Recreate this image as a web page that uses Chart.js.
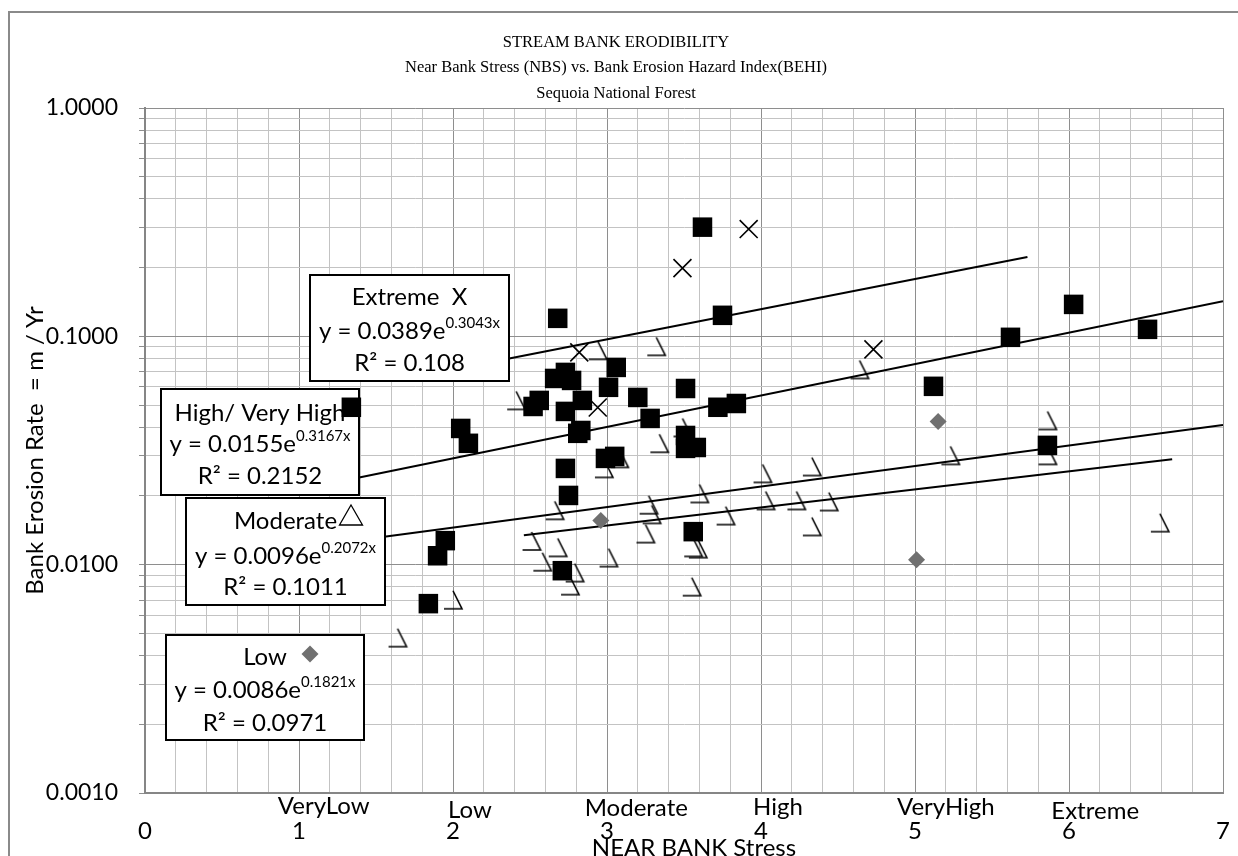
<!DOCTYPE html>
<html><head><meta charset="utf-8">
<script src="https://cdn.jsdelivr.net/npm/chart.js@4.4.1/dist/chart.umd.min.js"></script>
<style>html,body{margin:0;padding:0;background:#fff;}canvas{display:block;}</style>
</head><body>
<canvas id="c" width="1238" height="856"></canvas>
<script>
// ---------- text ----------
const titleLines = ["STREAM BANK ERODIBILITY", "Near Bank Stress (NBS) vs. Bank Erosion Hazard Index(BEHI)", "Sequoia National Forest"];
const xAxisTitle = "NEAR BANK Stress";
const yAxisTitle = "Bank Erosion Rate  = m / Yr";
const xTickLabels = ["0", "1", "2", "3", "4", "5", "6", "7"];
const yTickLabels = ["0.0010", "0.0100", "0.1000", "1.0000"];
const categoryNames = ["VeryLow", "Low", "Moderate", "High", "VeryHigh", "Extreme"];
const categoryX = [1.16, 2.11, 3.19, 4.11, 5.20, 6.17];

// ---------- series: High / Very High (squares) ----------
const highX = [1.34, 2.05, 2.10, 1.84, 1.95, 1.90, 2.52, 2.56, 2.73, 2.84, 3.06, 3.01, 3.20, 3.28, 3.51, 3.72, 3.84, 2.81, 2.83,
  3.51, 3.51, 3.58, 2.99, 3.05, 2.73, 2.75, 3.56, 2.71, 2.68, 3.62, 3.75, 2.73, 2.66, 2.77, 5.12, 5.62, 6.03, 6.51, 5.86];
const highY = [0.0489, 0.0395, 0.0340, 0.00675, 0.01274, 0.01094, 0.0493, 0.0524, 0.0469, 0.0524, 0.0731, 0.0598, 0.0540, 0.0437, 0.0591, 0.0489, 0.0508, 0.0376, 0.0387,
  0.0368, 0.0323, 0.0326, 0.0292, 0.0298, 0.0264, 0.0201, 0.01395, 0.00941, 0.1199, 0.3007, 0.1236, 0.0695, 0.0654, 0.0641, 0.0604, 0.0990, 0.138, 0.1073, 0.0333];

// ---------- series: Extreme (x marks) ----------
const extremeX = [2.82, 2.94, 3.49, 3.92, 4.73];
const extremeY = [0.0851, 0.0488, 0.199, 0.295, 0.0877];

// ---------- series: Moderate (open triangles) ----------
const moderateX = [1.64, 2.00, 2.41, 2.94, 3.32, 2.98, 3.08, 3.34, 3.49, 4.01, 3.60, 3.27, 3.29, 4.03, 3.77, 4.23, 2.66, 2.51,
  2.68, 3.25, 2.58, 2.79, 2.76, 3.01, 3.56, 3.59, 3.55, 4.64, 5.86, 5.86, 5.23, 4.33, 4.44, 4.33, 6.59];
const moderateY = [0.00479, 0.00702, 0.0524, 0.0868, 0.0904, 0.0264, 0.0292, 0.0340, 0.0399, 0.0251, 0.0205, 0.0183, 0.0166, 0.0191, 0.0164, 0.0191, 0.0173, 0.0127,
  0.0119, 0.01368, 0.0103, 0.00923, 0.00809, 0.01074, 0.0119, 0.01175, 0.00801, 0.0716, 0.0428, 0.0301, 0.0301, 0.0269, 0.0189, 0.0147, 0.01528];

// ---------- series: Low (diamonds) ----------
const lowX = [2.96, 5.15, 5.01];
const lowY = [0.0156, 0.0424, 0.0105];

// ---------- trendlines (Extreme, High/VH, Moderate, Low), end points ----------
const trendStartX = [2.0, 1.2, 1.2, 2.46];
const trendEndX = [5.73, 7.0, 7.0, 6.67];
const trendStartY = [0.0715, 0.02267, 0.01231, 0.01346];
const trendEndY = [0.2224, 0.1423, 0.04094, 0.02897];
const boxTitles = ["Extreme  X", "High/ Very High", "Moderate", "Low"];
const eqCoef = ["0.0389", "0.0155", "0.0096", "0.0086"];
const eqExp = ["0.3043x", "0.3167x", "0.2072x", "0.1821x"];
const rSquared = ["0.108", "0.2152", "0.1011", "0.0971"];

// ---------- axis tick positions ----------
const yTickValues = [];
[0.001, 0.01, 0.1].forEach(d => { for (let k = 1; k <= 9; k++) yTickValues.push(+(d * k).toPrecision(3)); });
yTickValues.push(1);
const xTickValues = [];
for (let i = 0; i <= 35; i++) xTickValues.push(+(i * 0.2).toFixed(1));

const pts = (xs, ys) => xs.map((x, i) => ({ x: x, y: ys[i] }));

// open-triangle marker as drawn in the reference (left side missing)
function hookMarker() {
  const c = document.createElement('canvas');
  c.width = 22; c.height = 22;
  const g = c.getContext('2d');
  g.strokeStyle = '#000'; g.lineWidth = 1.6; g.lineJoin = 'miter';
  g.beginPath();
  g.moveTo(11, 2); g.lineTo(20, 20); g.lineTo(2, 20);
  g.stroke();
  return c;
}

const SANS = 'Lato';
const SERIF = '"Liberation Serif"';

function drawEqBox(ctx, b, i) {
  const [x0, y0, x1, y1] = b.rect;
  ctx.save();
  ctx.fillStyle = '#fff';
  ctx.fillRect(x0, y0, x1 - x0, y1 - y0);
  ctx.strokeStyle = '#000'; ctx.lineWidth = 2;
  ctx.strokeRect(x0, y0, x1 - x0, y1 - y0);
  const cx = (x0 + x1) / 2;
  ctx.fillStyle = '#000';
  ctx.textBaseline = 'alphabetic';
  ctx.textAlign = 'center';
  ctx.font = '24px ' + SANS;
  ctx.fillText(boxTitles[i], cx, b.lines[0] + 8.5);
  const main = 'y = ' + eqCoef[i] + 'e';
  ctx.font = '24px ' + SANS;
  const wMain = ctx.measureText(main).width;
  ctx.font = '15px ' + SANS;
  const wSup = ctx.measureText(eqExp[i]).width;
  const sx = cx - (wMain + wSup) / 2;
  ctx.textAlign = 'left';
  ctx.font = '24px ' + SANS;
  ctx.fillText(main, sx, b.lines[1] + 8.5);
  ctx.font = '15px ' + SANS;
  ctx.fillText(eqExp[i], sx + wMain, b.lines[1] - 2);
  ctx.textAlign = 'center';
  ctx.font = '24px ' + SANS;
  ctx.fillText('R\u00B2 = ' + rSquared[i], cx, b.lines[2] + 8.5);
  ctx.restore();
}

const boxes = [
  { rect: [310, 275, 509, 381], lines: [296, 330, 362] },
  { rect: [161, 389, 359, 495], lines: [412, 443, 475] },
  { rect: [186, 498, 385, 605], lines: [520, 555, 586] },
  { rect: [166, 635, 364, 740], lines: [656, 689, 722] }
];

const decor = {
  id: 'decor',
  beforeDraw(chart) {
    const ctx = chart.ctx;
    ctx.save();
    ctx.fillStyle = '#fff';
    ctx.fillRect(0, 0, chart.width, chart.height);
    ctx.restore();
  },
  beforeDatasetDraw(chart, args) {
    if (args.index !== 3) return;
    const ctx = chart.ctx;
    ctx.save();
    ctx.beginPath();
    ctx.rect(0, 0, chart.width, chart.height);
    ctx.clip();
    boxes.forEach((b, i) => drawEqBox(ctx, b, i));
    ctx.strokeStyle = '#000'; ctx.lineWidth = 1.3;
    ctx.beginPath();
    ctx.moveTo(351, 505); ctx.lineTo(362.5, 525); ctx.lineTo(339.5, 525); ctx.closePath();
    ctx.stroke();
    ctx.fillStyle = '#707070';
    ctx.beginPath();
    ctx.moveTo(310, 645.5); ctx.lineTo(318.5, 654); ctx.lineTo(310, 662.5); ctx.lineTo(301.5, 654); ctx.closePath();
    ctx.fill();
    ctx.restore();
  },
  afterDraw(chart) {
    const ctx = chart.ctx;
    const area = chart.chartArea;
    const xs = chart.scales.x;
    ctx.save();
    ctx.strokeStyle = '#8a8a8a'; ctx.lineWidth = 2;
    ctx.strokeRect(9, 12, 1300, 900);
    ctx.fillStyle = '#000';
    ctx.textAlign = 'center'; ctx.textBaseline = 'middle';
    ctx.font = '16.5px ' + SERIF;
    const tY = [43, 68, 94];
    titleLines.forEach((t, i) => ctx.fillText(t, 616, tY[i]));
    ctx.font = '24px ' + SANS;
    ctx.textBaseline = 'alphabetic';
    const catDy = [21, 25, 23, 22, 22, 26];
    categoryNames.forEach((n, i) => ctx.fillText(n, xs.getPixelForValue(categoryX[i]), area.bottom + catDy[i]));
    ctx.fillText(xAxisTitle, 694, 856);
    ctx.translate(35, (area.top + area.bottom) / 2);
    ctx.rotate(-Math.PI / 2);
    ctx.textBaseline = 'middle';
    ctx.font = '24px ' + SANS;
    ctx.fillText(yAxisTitle, 0, 0);
    ctx.restore();
  }
};

function isDecade(v) { const l = Math.log10(v); return Math.abs(l - Math.round(l)) < 1e-6; }
function isInt(v) { return Math.abs(v - Math.round(v)) < 1e-6; }

function build() {
  const hook = hookMarker();
  const trendSets = boxTitles.map((n, i) => ({
    label: n + ' trend',
    data: [{ x: trendStartX[i], y: trendStartY[i] }, { x: trendEndX[i], y: trendEndY[i] }],
    showLine: true, pointRadius: 0, borderColor: '#000', borderWidth: 2, fill: false
  }));
  new Chart(document.getElementById('c'), {
    type: 'scatter',
    data: {
      datasets: [
        { label: 'High/ Very High', data: pts(highX, highY), pointStyle: 'rect', pointRadius: 13.8, backgroundColor: '#000', borderColor: '#000', borderWidth: 0 },
        { label: 'Extreme', data: pts(extremeX, extremeY), pointStyle: 'crossRot', pointRadius: 12.7, borderColor: '#000', borderWidth: 1.6 },
        { label: 'Moderate', data: pts(moderateX, moderateY), pointStyle: hook, pointRadius: 10 },
        { label: 'Low', data: pts(lowX, lowY), pointStyle: 'rectRot', pointRadius: 8.5, backgroundColor: '#707070', borderColor: '#707070', borderWidth: 0 },
        ...trendSets
      ]
    },
    options: {
      responsive: false,
      animation: false,
      events: [],
      devicePixelRatio: 1,
      layout: { padding: { left: 0, top: 108, right: 15, bottom: 0 } },
      plugins: { legend: { display: false }, tooltip: { enabled: false }, title: { display: false } },
      scales: {
        x: {
          type: 'linear', min: 0, max: 7,
          afterBuildTicks: s => { s.ticks = xTickValues.map(v => ({ value: v })); },
          afterFit: s => { s.height = 63; },
          ticks: {
            autoSkip: false, maxRotation: 0, minRotation: 0, padding: 0,
            color: '#000', font: { family: SANS, size: 24 },
            callback: v => isInt(v) ? xTickLabels[Math.round(v)] : ''
          },
          grid: {
            drawTicks: true, tickLength: 24, tickColor: 'rgba(0,0,0,0)',
            color: c => (c.tick && isInt(c.tick.value)) ? '#8e8e8e' : '#c3c3c3',
            lineWidth: 1
          },
          border: { display: true, color: '#868686', width: 2 }
        },
        y: {
          type: 'logarithmic', min: 0.001, max: 1,
          afterBuildTicks: s => { s.ticks = yTickValues.map(v => ({ value: v })); },
          afterFit: s => { s.width = 145; },
          ticks: {
            autoSkip: false, padding: 21,
            color: '#000', font: { family: SANS, size: 23 },
            callback: v => isDecade(v) ? yTickLabels[Math.round(Math.log10(v)) + 3] : ''
          },
          grid: {
            drawTicks: true, tickLength: 6, tickColor: '#8e8e8e',
            color: c => (c.tick && isDecade(c.tick.value)) ? '#8e8e8e' : '#c3c3c3',
            lineWidth: 1
          },
          border: { display: true, color: '#868686', width: 2 }
        }
      }
    },
    plugins: [decor]
  });
}

Promise.all([
  document.fonts.load('24px Lato'),
  document.fonts.load('16px "Liberation Serif"')
]).then(build, build);
</script>
</body></html>
